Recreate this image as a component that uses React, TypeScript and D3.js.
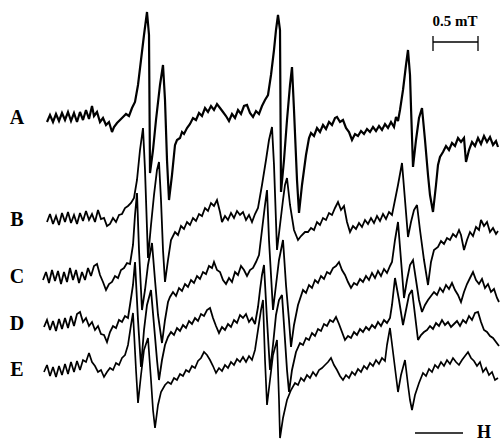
import React from "react";
import * as d3 from "d3";

type Pt = [number, number];

// Field channel (x) and deflection (y, downward)
const traceA: Pt[] = [
  [47,122],[50,115],[53,122],[56,114],[59,121],[62,113],[65,120],[68,112],[71,121],[74,113],[77,122],[80,112],[83,120],[86,110],[89,119],[92,106],[94,116],[97,112],[100,122],[103,118],[106,125],[109,122],[112,132],[114,127],[117,123],[120,120],[123,117],[126,114],[129,116],[132,108],[135,102],[138,85],[141,60],[144,35],[147,12],[149,35],[150,173],[153,150],[156,120],[160,85],[163,65],[165,100],[167,160],[169,200],[172,175],[175,145],[177,140],[180,138],[182,132],[184,134],[187,128],[190,124],[193,118],[196,120],[199,113],[202,116],[205,108],[208,112],[211,106],[214,110],[217,104],[220,108],[223,112],[226,116],[229,121],[232,114],[235,118],[238,110],[241,114],[244,106],[247,105],[250,113],[253,117],[256,111],[259,114],[262,106],[265,100],[268,95],[271,75],[274,50],[276,30],[278,15],[280,30],[281,192],[284,160],[287,120],[290,85],[292,67],[294,110],[297,180],[299,213],[302,185],[306,155],[309,138],[311,133],[314,136],[317,128],[320,132],[323,125],[326,129],[329,122],[332,125],[335,118],[337,117],[340,122],[343,120],[346,128],[349,132],[352,140],[355,134],[358,136],[361,131],[364,134],[367,129],[370,132],[373,127],[376,131],[379,126],[382,130],[385,124],[388,128],[391,122],[394,127],[396,117],[398,121],[400,110],[403,90],[406,65],[408,50],[410,75],[411,107],[413,167],[416,140],[419,118],[422,108],[425,140],[428,175],[430,195],[433,212],[436,185],[438,165],[440,157],[443,152],[446,146],[449,150],[452,143],[455,146],[458,138],[461,142],[464,138],[466,162],[469,150],[472,142],[475,146],[478,138],[481,144],[484,136],[487,142],[490,137],[493,145],[496,141],[498,147]
];

const traceB: Pt[] = [
  [47,222],[50,214],[53,224],[56,216],[59,225],[62,213],[65,222],[68,212],[71,223],[74,215],[77,224],[80,213],[83,221],[86,211],[89,220],[92,214],[95,222],[98,210],[101,219],[104,218],[107,226],[110,224],[113,218],[116,222],[119,215],[122,214],[125,208],[128,206],[131,203],[134,198],[137,180],[140,150],[143,128],[145,170],[148,258],[151,225],[154,195],[157,170],[159,162],[161,200],[163,250],[165,282],[168,260],[171,240],[175,232],[178,235],[181,226],[184,229],[187,222],[190,225],[193,218],[196,221],[199,214],[202,216],[205,208],[208,211],[211,203],[214,206],[217,200],[220,212],[222,222],[225,216],[228,220],[231,213],[234,218],[237,211],[240,215],[243,212],[246,220],[249,215],[252,222],[255,214],[258,208],[262,185],[266,160],[269,140],[272,127],[274,165],[277,250],[280,225],[283,200],[285,185],[287,178],[290,205],[294,230],[298,240],[301,236],[305,232],[308,232],[311,228],[314,230],[317,222],[320,225],[323,218],[326,220],[329,213],[332,215],[335,208],[338,202],[341,210],[344,206],[347,222],[350,232],[353,226],[356,229],[359,223],[362,227],[365,220],[368,224],[371,218],[374,223],[377,216],[380,221],[383,214],[386,219],[389,212],[392,215],[395,200],[398,185],[402,163],[405,200],[408,237],[411,222],[414,210],[417,205],[420,230],[424,260],[428,285],[431,262],[434,250],[438,247],[441,241],[444,244],[447,238],[450,240],[453,234],[456,237],[459,230],[461,235],[464,250],[467,240],[470,232],[473,236],[476,227],[479,230],[481,220],[484,226],[487,222],[490,232],[493,228],[496,234],[498,231]
];

const traceC: Pt[] = [
  [43,280],[46,272],[49,283],[52,270],[55,281],[58,271],[61,284],[64,272],[67,282],[70,268],[73,280],[76,270],[79,283],[82,272],[85,280],[88,268],[91,276],[94,266],[97,264],[100,275],[103,282],[106,290],[109,284],[112,282],[115,276],[118,278],[121,270],[124,268],[127,263],[130,264],[133,245],[135,215],[137,193],[139,250],[142,310],[145,290],[148,265],[152,243],[155,280],[158,315],[162,343],[165,320],[168,302],[170,297],[173,292],[176,296],[179,288],[182,291],[185,284],[188,287],[191,280],[194,283],[197,276],[200,279],[203,272],[206,274],[209,266],[212,268],[214,262],[217,270],[220,272],[223,280],[226,284],[229,278],[232,282],[235,272],[238,275],[241,266],[244,270],[247,276],[250,270],[253,268],[256,262],[259,255],[262,230],[265,205],[267,190],[269,240],[273,310],[276,285],[279,260],[283,240],[286,285],[289,320],[291,347],[294,325],[298,305],[303,290],[306,293],[309,285],[312,288],[315,280],[318,283],[321,276],[324,279],[327,272],[330,274],[333,268],[336,266],[339,262],[342,270],[345,275],[348,282],[351,288],[354,283],[357,285],[360,279],[363,282],[366,276],[369,280],[372,273],[375,278],[378,271],[381,276],[384,269],[387,273],[390,266],[392,262],[395,240],[398,222],[401,260],[404,298],[407,280],[410,265],[413,260],[416,280],[419,300],[422,312],[425,305],[428,300],[431,296],[434,292],[437,295],[440,288],[443,292],[446,285],[449,289],[452,283],[455,290],[458,295],[461,302],[464,292],[467,284],[470,278],[473,272],[476,280],[479,284],[482,279],[485,288],[488,284],[491,292],[494,289],[497,298],[499,302]
];

const traceD: Pt[] = [
  [44,327],[47,320],[50,330],[53,321],[56,331],[59,319],[62,329],[65,318],[68,328],[71,316],[74,326],[77,314],[80,312],[83,322],[86,318],[89,326],[92,322],[95,330],[98,326],[101,334],[104,335],[107,342],[110,332],[113,326],[116,328],[119,320],[122,322],[125,316],[128,318],[130,305],[133,285],[135,262],[138,320],[141,367],[144,330],[147,305],[151,290],[154,325],[157,360],[159,380],[162,360],[165,345],[168,337],[171,332],[174,335],[177,328],[180,331],[183,325],[186,328],[189,321],[192,324],[195,318],[198,321],[201,314],[204,316],[207,310],[210,308],[213,318],[216,326],[219,333],[222,327],[225,330],[228,324],[231,327],[234,320],[237,323],[240,315],[243,318],[246,314],[249,322],[252,318],[255,324],[258,307],[260,290],[262,275],[264,265],[267,320],[270,370],[273,345],[276,315],[279,300],[282,295],[285,340],[287,370],[289,392],[292,370],[296,352],[300,343],[303,345],[306,338],[309,340],[312,333],[315,336],[318,329],[321,331],[324,324],[327,326],[330,320],[333,322],[336,317],[339,324],[342,332],[345,340],[348,336],[351,338],[354,332],[357,335],[360,329],[363,332],[366,327],[369,330],[372,325],[375,328],[378,322],[381,326],[384,320],[387,323],[390,318],[392,305],[395,278],[399,300],[403,325],[406,310],[409,295],[412,290],[415,315],[418,340],[421,335],[424,332],[427,330],[430,326],[433,329],[436,323],[439,326],[442,320],[445,325],[448,322],[451,327],[454,324],[457,321],[460,326],[463,320],[466,323],[469,316],[472,320],[475,313],[478,312],[481,322],[484,330],[487,332],[490,336],[493,338],[496,342],[499,346]
];

const traceE: Pt[] = [
  [44,372],[47,365],[50,376],[53,367],[56,377],[59,366],[62,375],[65,364],[68,374],[71,362],[74,372],[77,361],[80,370],[83,360],[86,362],[89,353],[92,362],[95,366],[98,372],[101,370],[104,377],[107,372],[110,368],[113,370],[116,363],[119,365],[122,358],[125,355],[128,345],[131,325],[133,313],[136,370],[138,403],[141,375],[144,350],[148,338],[151,380],[153,410],[155,428],[158,405],[161,392],[165,385],[168,382],[171,384],[174,378],[177,380],[180,374],[183,376],[186,370],[189,372],[192,366],[195,368],[198,361],[201,358],[204,352],[207,355],[210,360],[213,366],[216,373],[219,368],[222,371],[225,365],[228,368],[231,362],[234,365],[237,359],[240,362],[243,357],[246,362],[249,356],[252,360],[255,350],[258,330],[261,310],[263,300],[265,360],[267,405],[270,380],[273,355],[277,340],[279,400],[280,438],[283,418],[287,400],[291,390],[295,383],[298,385],[301,378],[304,381],[307,375],[310,378],[313,372],[316,376],[319,370],[322,368],[325,365],[328,362],[331,358],[334,365],[337,370],[340,376],[343,380],[346,375],[349,378],[352,372],[355,375],[358,369],[361,372],[364,366],[367,369],[370,363],[373,366],[376,360],[379,364],[382,358],[385,361],[387,345],[390,328],[394,360],[398,392],[401,375],[405,360],[408,385],[410,400],[412,410],[415,395],[419,383],[423,373],[426,376],[429,369],[432,372],[435,365],[438,368],[441,362],[444,366],[447,360],[450,364],[453,358],[456,362],[459,365],[462,360],[465,356],[468,352],[471,358],[474,361],[477,366],[480,362],[483,372],[486,368],[489,375],[492,372],[495,380],[498,378]
];

const traceLabels = ["A", "B", "C", "D", "E"];
const traces: Pt[][] = [traceA, traceB, traceC, traceD, traceE];
const traceWidths = [2.2, 1.8, 1.8, 1.8, 1.7];
const scaleBarLabel = "0.5 mT";
const fieldLabel = "H";

export default function App() {
  const W = 501, H = 441;
  const x = d3.scaleLinear().domain([0, 501]).range([0, W]);
  const y = d3.scaleLinear().domain([0, 441]).range([0, H]);
  const line = d3
    .line<Pt>()
    .x((d) => x(d[0]))
    .y((d) => y(d[1]))
    .curve(d3.curveLinear);

  const labelY = (t: Pt[]) => d3.mean(t.slice(0, 12), (d) => d[1]) as number;

  return (
    <svg
      width={W}
      height={H}
      style={{ position: "absolute", left: 0, top: 0, background: "#fff" }}
      fontFamily="'Liberation Serif', 'DejaVu Serif', serif"
    >
      <rect width={W} height={H} fill="#fff" />
      {traces.map((t, i) => (
        <path
          key={i}
          d={line(t) || ""}
          fill="none"
          stroke="#000"
          strokeWidth={traceWidths[i]}
          strokeLinejoin="miter"
          strokeMiterlimit={3}
        />
      ))}
      {traceLabels.map((l, i) => (
        <text
          key={l}
          x={17}
          y={y(labelY(traces[i])) + 7}
          textAnchor="middle"
          fontSize={20}
          fontWeight="bold"
        >
          {l}
        </text>
      ))}
      {/* 0.5 mT scale bar */}
      <text x={455} y={26} textAnchor="middle" fontSize={15} fontWeight="bold">
        {scaleBarLabel}
      </text>
      <line x1={x(433)} x2={x(478)} y1={42} y2={42} stroke="#000" strokeWidth={1.3} />
      <line x1={x(433)} x2={x(433)} y1={36} y2={51} stroke="#000" strokeWidth={1.3} />
      <line x1={x(478)} x2={x(478)} y1={36} y2={51} stroke="#000" strokeWidth={1.3} />
      {/* field direction */}
      <line x1={x(415)} x2={x(463)} y1={433} y2={433} stroke="#000" strokeWidth={1.3} />
      <text x={484} y={438} textAnchor="middle" fontSize={18} fontWeight="bold">
        {fieldLabel}
      </text>
    </svg>
  );
}
